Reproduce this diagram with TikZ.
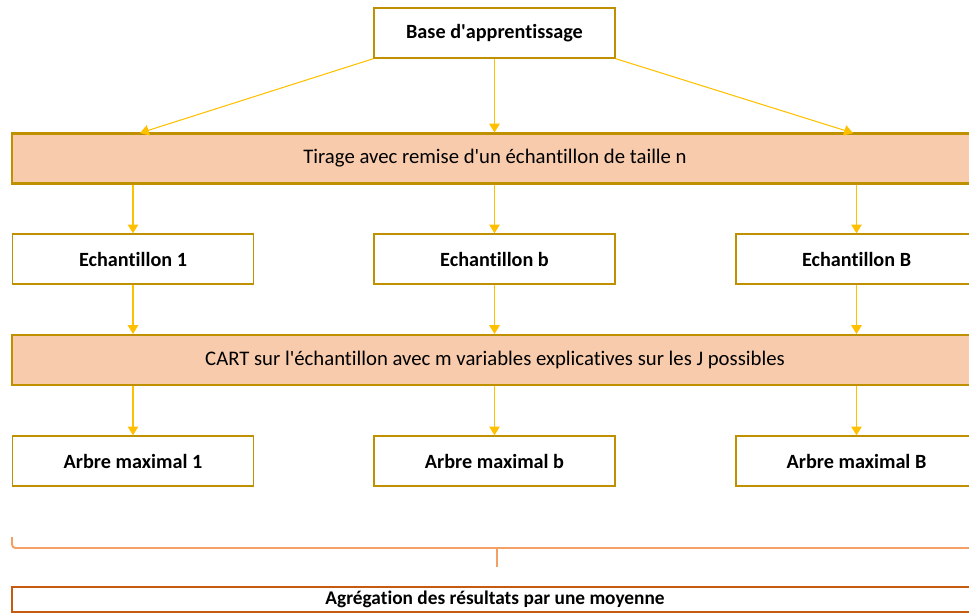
\documentclass[tikz,border=0pt]{standalone}
\usepackage{fontspec}
\setmainfont{Carlito}[Ligatures=NoCommon]
\usetikzlibrary{arrows.meta,positioning}
\definecolor{boxline}{RGB}{191,144,0}
\definecolor{bandfill}{RGB}{248,203,173}
\definecolor{arrowgold}{RGB}{255,192,0}
\definecolor{braceorange}{RGB}{244,160,100}
\definecolor{aggline}{RGB}{197,90,17}
\newcommand{\boxfont}{\fontsize{11.5}{13}\selectfont}
\newcommand{\bandfont}{\fontsize{11.8}{13}\selectfont}
\newcommand{\apos}{\textquotesingle}
\tikzset{
  stepnode/.style={draw=boxline, line width=0.8pt, fill=white, minimum width=4.82cm,
    minimum height=1cm, inner sep=0pt, font=\boxfont\bfseries},
  bandnode/.style={draw=boxline, line width=1.2pt, fill=bandfill, minimum width=19.32cm,
    minimum height=1cm, inner sep=0pt, font=\bandfont},
  flow/.style={draw=arrowgold, line width=0.6pt, -{Triangle[length=5pt,width=6pt]}},
  bracket/.style={draw=braceorange, line width=1.1pt, rounded corners=2pt}
}

\begin{document}
\begin{tikzpicture}[x=0.02cm,y=-0.02cm]

      % picture window, 969 x 612 px
      \clip (0,0) rectangle (969,612);

      % top box and the first band
      \node[stepnode] (base) at (494.5,33) {Base d\apos apprentissage};
      \node[bandnode] (tirage) at (495,158.5) {Tirage avec remise d\apos un échantillon de taille n};

      % three samples
      \node[stepnode] (ech1) at (133,259) {Echantillon 1};
      \node[stepnode] (echb) at (494.5,259) {Echantillon b};
      \node[stepnode] (echB) at (856.5,259) {Echantillon B};

      % second band
      \node[bandnode] (cart) at (495,360) {CART sur l\apos échantillon avec m variables explicatives sur les J possibles};

      % three trees
      \node[stepnode] (arb1) at (133,461) {Arbre maximal 1};
      \node[stepnode] (arbb) at (494.5,461) {Arbre maximal b};
      \node[stepnode] (arbB) at (856.5,461) {Arbre maximal B};

      % last box, cut by the window
      \node[draw=aggline, line width=1.2pt, fill=white, minimum width=19.32cm, minimum height=0.5cm,
        inner sep=0pt, font=\fontsize{11}{12}\selectfont\bfseries] (agg) at (495,599.5) {Agrégation des résultats par une moyenne};

      %% arrows from the base
      \coordinate (tl) at (140,133);
      \coordinate (tr) at (853,133);
      \draw[flow] (base.south west) -- (tl);
      \draw[flow] (base.south) -- (base.south |- tirage.north);
      \draw[flow] (base.south east) -- (tr);

      %% arrows down the columns
      \foreach \e/\a in {ech1/arb1, echb/arbb, echB/arbB} {
        \draw[flow] (\e.north |- tirage.south) -- (\e.north);
        \draw[flow] (\e.south) -- (\e.south |- cart.north);
        \draw[flow] (\a.north |- cart.south) -- (\a.north);
      }

      % bracket over the trees
      \coordinate (brl) at (12,537);
      \coordinate (brr) at (985,548);
      \coordinate (brm) at (497,548);
      \draw[bracket] (brl) |- (brr);
      \draw[bracket] (brm) -- ++(0,19);

\end{tikzpicture}
\end{document}
